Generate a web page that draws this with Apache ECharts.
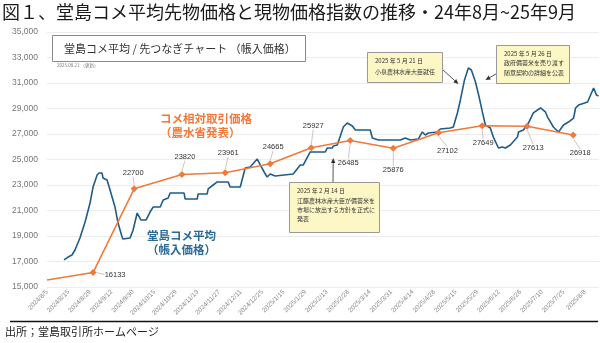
<!DOCTYPE html>
<html>
<head>
<meta charset="utf-8">
<script src="https://cdn.jsdelivr.net/npm/echarts@6/dist/echarts.min.js"></script>
<style>
  html, body { margin: 0; padding: 0; background: #fff; }
  #chart { width: 600px; height: 343px; }
</style>
</head>
<body>
<div id="chart"></div>
<script>
// x axis: one slot per labelled trading date (about ten sessions apart)
const tickLabels = [
  '2024/8/5', '2024/8/15', '2024/8/29', '2024/9/12', '2024/9/30', '2024/10/15',
  '2024/10/29', '2024/11/13', '2024/11/27', '2024/12/11', '2024/12/25', '2025/1/15',
  '2025/1/29', '2025/2/13', '2025/2/28', '2025/3/14', '2025/3/31', '2025/4/14',
  '2025/4/28', '2025/5/15', '2025/5/29', '2025/6/12', '2025/6/26', '2025/7/10',
  '2025/7/25', '2025/8/8'
];

// 堂島コメ平均（帳入価格）: position on the date slots, price
const futSlots = [
  0.79, 0.98, 1.16, 1.30, 1.53, 1.77, 2.00, 2.14, 2.33, 2.42, 2.56, 2.60, 2.79, 2.93,
  3.16, 3.30, 3.49, 3.53, 3.86, 4.00, 4.19, 4.23, 4.37, 4.60, 4.79, 4.93, 5.26, 5.40,
  5.63, 5.72, 6.37, 6.42, 6.98, 7.02, 7.44, 7.49, 7.72, 7.91, 8.42, 8.51, 8.98, 9.21,
  9.44, 9.77, 9.91, 10.09, 10.23, 10.37, 10.60, 11.44, 11.77, 11.91, 12.23, 12.93, 13.02,
  13.26, 13.30, 13.49, 13.77, 13.95, 14.19, 14.33, 15.02, 15.12, 15.40, 16.42, 16.65,
  16.88, 17.26, 17.44, 17.58, 17.72, 18.14, 18.28, 18.74, 18.88, 19.07, 19.21, 19.40,
  19.58, 19.72, 19.91, 20.09, 20.23, 20.37, 20.60, 20.74, 20.98, 21.16, 21.30, 21.53,
  21.86, 21.91, 22.14, 22.37, 22.60, 22.93, 23.16, 23.26, 23.53, 23.77, 24.00, 24.23,
  24.47, 24.56, 24.70, 25.12, 25.26, 25.40, 25.53, 25.63
];
const futValues = [
  17120, 17350, 17510, 17900, 18840, 20100, 21590, 22840, 23780, 23940, 23940, 23550, 23390, 22610,
  21270, 20020, 18920, 18760, 18840, 19470, 20800, 20800, 20250, 20250, 20880, 21270, 21270, 21820,
  21980, 22370, 22370, 21900, 21900, 22290, 22290, 22690, 23000, 23240, 23240, 22840, 22840, 24330,
  24410, 25040, 24570, 24020, 23630, 23860, 23710, 23860, 24570, 24570, 25590, 25590, 25900,
  25900, 26060, 26140, 27550, 27860, 27630, 27310, 27310, 26690, 26530, 26530, 26690,
  26530, 26610, 27160, 26920, 27080, 27160, 27390, 27470, 27550, 28650, 29670, 31240,
  32180, 32020, 31080, 29820, 28730, 27710, 27470, 26760, 25900, 25980, 25900, 26140,
  26760, 27160, 27310, 27860, 28650, 29040, 28730, 28330, 27550, 27160, 27710, 27940,
  28250, 29040, 29270, 29510, 30060, 30610, 30060, 29980
];

// コメ相対取引価格（農水省発表）: monthly points
const refSlots = [0, 2.14, 4.05, 6.27, 8.28, 10.37, 12.28, 14.09, 16.09, 18.19, 20.22, 22.31, 24.45];
const refValues = [15550, 16133, 22700, 23820, 23961, 24665, 25927, 26485, 25876, 27102, 27649, 27613, 26918];

const yTicks = { min: 15000, max: 35000, step: 2000 };

const CJK = '"Noto Sans CJK JP", "Noto Sans", sans-serif';
const ORANGE = '#ef7a3a';
const BLUE = '#1f5c88';

// label placement (dx, dy from the marker) for the monthly value tags
const refLabelShift = [
  null, [22, 2], [-1, -16], [3, -18], [3, -20], [3, -17], [2, -22],
  [-2, 22], [0, 22], [9, 18], [1, 17], [6, 22], [7, 18]
];

const chart = echarts.init(document.getElementById('chart'), null, { renderer: 'canvas' });

const option = {
  animation: false,
  backgroundColor: '#fff',
  grid: { left: 47, right: 1, top: 32, bottom: 56, containLabel: false },
  xAxis: {
    type: 'value',
    min: 0,
    max: 25.65,
    interval: 1,
    axisLine: { show: false },
    axisTick: { show: false },
    splitLine: { show: false },
    axisLabel: {
      showMaxLabel: false,
      rotate: 45,
      fontSize: 6.5,
      color: '#888',
      fontFamily: 'Liberation Sans, Arial, sans-serif',
      margin: 4,
      formatter: function (v) {
        const i = Math.round(v);
        return (Math.abs(v - i) < 1e-6 && tickLabels[i]) ? tickLabels[i] : '';
      }
    }
  },
  yAxis: {
    type: 'value',
    min: yTicks.min,
    max: yTicks.max,
    interval: yTicks.step,
    axisLine: { show: false },
    axisTick: { show: false },
    splitLine: { lineStyle: { color: '#ececec', width: 1 } },
    axisLabel: {
      fontSize: 8.5,
      color: '#777',
      margin: 9,
      fontFamily: 'Liberation Sans, Arial, sans-serif'
    }
  },
  series: [
    {
      name: '堂島コメ平均',
      type: 'line',
      data: futSlots.map((s, i) => [s, futValues[i]]),
      showSymbol: false,
      lineStyle: { color: BLUE, width: 1.6 },
      z: 3
    },
    {
      name: 'コメ相対取引価格',
      type: 'line',
      data: refValues.map((v, i) => ({
        value: [refSlots[i], v],
        symbolSize: i > 0 ? 7 : 0,
        label: { show: i > 0 },
        labelLine: { show: i > 0 }
      })),
      symbol: 'diamond',
      symbolSize: 7,
      itemStyle: { color: ORANGE },
      lineStyle: { color: ORANGE, width: 1.6 },
      label: {
        show: true,
        position: 'inside',
        fontSize: 7.5,
        color: '#333',
        fontFamily: 'Liberation Sans, Arial, sans-serif',
        formatter: p => String(p.value[1])
      },
      labelLine: { show: true, lineStyle: { color: '#c8c8c8', width: 1 } },
      labelLayout: function (params) {
        const s = refLabelShift[params.dataIndex];
        return s ? { dx: s[0], dy: s[1] } : {};
      },
      z: 4
    }
  ]
};

chart.setOption(option);

// callout boxes with arrows pointing at [slot, price]
const callouts = [
  { box: [367, 52, 75, 30], lines: ['2025 年 5 月 21 日', '小泉農林水産大臣就任'], from: [442, 69], to: [19.12, 30920], lineGap: 10.5 },
  { box: [496, 45, 73, 38], lines: ['2025 年 5 月 26 日', '政府備蓄米を売り渡す', '随意契約の詳細を公表'], from: [496, 74], to: [20.37, 31240], lineGap: 9.2 },
  { box: [289, 182, 90, 50], lines: ['2025 年 2 月 14 日', '江藤農林水産大臣が備蓄米を', '市場に放出する方針を正式に', '発表'], from: [333, 182], to: [13.30, 25120], lineGap: 9.3 }
];

function arrow(x1, y1, x2, y2) {
  const ang = Math.atan2(y2 - y1, x2 - x1);
  const L = 5, W = 2.2;
  const bx = x2 - L * Math.cos(ang), by = y2 - L * Math.sin(ang);
  const px = -Math.sin(ang) * W, py = Math.cos(ang) * W;
  return [
    { type: 'line', shape: { x1: x1, y1: y1, x2: bx, y2: by }, style: { stroke: '#444', lineWidth: 0.9 }, z: 20 },
    { type: 'polygon', shape: { points: [[x2, y2], [bx + px, by + py], [bx - px, by - py]] }, style: { fill: '#333' }, z: 20 }
  ];
}

const g = [];
// heading
g.push({ type: 'text', left: 2, top: 3, style: { text: '図１、堂島コメ平均先物価格と現物価格指数の推移・24年8月~25年9月', font: '18px ' + CJK, fill: '#1a1a1a' }, z: 30 });
// source line
g.push({ type: 'line', shape: { x1: 10, y1: 321.5, x2: 598, y2: 321.5 }, style: { stroke: '#111', lineWidth: 1.5 }, z: 30 });
g.push({ type: 'text', left: 5, top: 326, style: { text: '出所；堂島取引所ホームページ', font: '11px ' + CJK, fill: '#222' }, z: 30 });
// chart caption box
g.push({ type: 'rect', shape: { x: 52.5, y: 35.5, width: 253, height: 26 }, style: { fill: '#fff', stroke: '#8a8a8a', lineWidth: 1 }, z: 20 });
g.push({ type: 'text', x: 64, y: 48.5, style: { text: '堂島コメ平均 / 先つなぎチャート （帳入価格）', font: '11px ' + CJK, fill: '#333', verticalAlign: 'middle' }, z: 21 });
g.push({ type: 'text', x: 57, y: 65.5, style: { text: '2025.08.21 （更新）', font: '4.5px ' + CJK, fill: '#777', verticalAlign: 'middle' }, z: 21 });
// series names
g.push({ type: 'text', x: 160, y: 112, style: { text: 'コメ相対取引価格\n（農水省発表）', font: 'bold 11.5px ' + CJK, fill: ORANGE, lineHeight: 14 }, z: 21 });
g.push({ type: 'text', x: 147, y: 229, style: { text: '堂島コメ平均\n（帳入価格）', font: 'bold 11.5px ' + CJK, fill: '#2a6b98', lineHeight: 14 }, z: 21 });

callouts.forEach(c => {
  const [bx, by, bw, bh] = c.box;
  g.push({ type: 'rect', shape: { x: bx + 0.5, y: by + 0.5, width: bw, height: bh }, style: { fill: '#fcf7c5', stroke: '#999', lineWidth: 1 }, z: 22 });
  c.lines.forEach((t, i) => {
    g.push({ type: 'text', x: bx + 8, y: by + 9 + i * c.lineGap, style: { text: t, font: '6px ' + CJK, fill: '#333', verticalAlign: 'middle' }, z: 23 });
  });
  const tip = chart.convertToPixel({ gridIndex: 0 }, c.to);
  arrow(c.from[0], c.from[1], tip[0], tip[1]).forEach(e => g.push(e));
});

chart.setOption({ graphic: g });
</script>
</body>
</html>
